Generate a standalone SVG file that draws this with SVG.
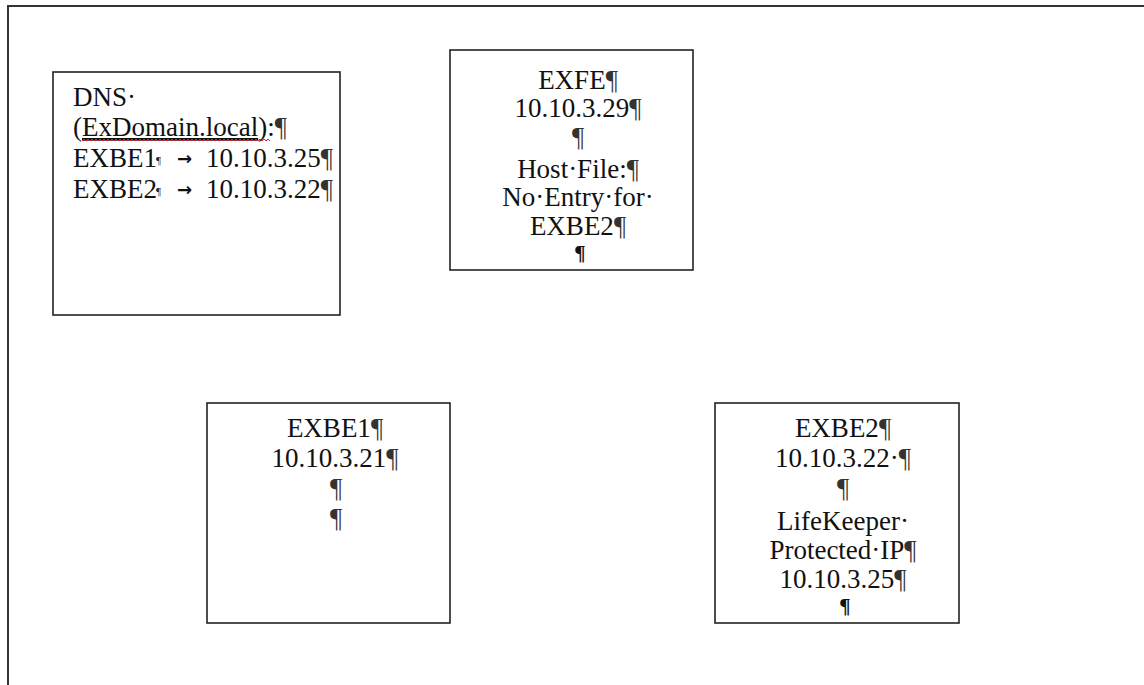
<svg xmlns="http://www.w3.org/2000/svg" width="1144" height="685" viewBox="0 0 1144 685">
  <style>
    .frame { fill: none; stroke: #333; stroke-width: 2; }
    .box { fill: #fff; stroke: #222; stroke-width: 1.6; }
    .t { font-family: "Liberation Serif", "Times New Roman", serif; font-size: 27px; fill: #111; }
    .c { text-anchor: middle; }
    .pm { fill: #333; }
    .endmark { font-family: "Liberation Serif", "Times New Roman", serif; font-size: 21px; font-weight: bold; fill: #111; text-anchor: middle; }
    .brk { font-family: "Liberation Serif", serif; font-size: 11px; fill: #222; }
    .tab { font-family: "DejaVu Sans", sans-serif; font-size: 18px; font-weight: bold; fill: #111; }
    .squiggle { fill: none; stroke: #e02020; stroke-width: 1; }
  </style>

  <rect width="1144" height="685" fill="#fff"/>

  <!-- page border: only the top and left edges are in view -->
  <path class="frame" d="M8,685 V6 H1144"/>

  <!-- DNS records -->
  <g id="dns">
    <rect class="box" x="53" y="72" width="287" height="243"/>
    <text class="t" x="73" y="106">DNS·</text>
    <text class="t" x="73" y="136">(<tspan text-decoration="underline">ExDomain.local</tspan>):<tspan class="pm">¶</tspan></text>
    <path class="squiggle" d="M82,141 l2,-2 l2,2 l2,-2 l2,2 l2,-2 l2,2 l2,-2 l2,2 l2,-2 l2,2 l2,-2 l2,2 l2,-2 l2,2 l2,-2 l2,2 l2,-2 l2,2 l2,-2 l2,2 l2,-2 l2,2 l2,-2 l2,2 l2,-2 l2,2 l2,-2 l2,2 l2,-2 l2,2 l2,-2 l2,2 l2,-2 l2,2 l2,-2 l2,2 l2,-2 l2,2 l2,-2 l2,2 l2,-2 l2,2 l2,-2 l2,2 l2,-2 l2,2 l2,-2 l2,2 l2,-2 l2,2 l2,-2 l2,2 l2,-2 l2,2 l2,-2 l2,2 l2,-2 l2,2 l2,-2 l2,2 l2,-2 l2,2 l2,-2 l2,2 l2,-2 l2,2 l2,-2 l2,2 l2,-2 l2,2 l2,-2 l2,2 l2,-2 l2,2 l2,-2 l2,2 l2,-2 l2,2 l2,-2 l2,2 l2,-2 l2,2 l2,-2 l2,2 l2,-2 l2,2 l2,-2 l2,2 l2,-2 l2,2 l2,-2 l2,2 l2,-2 l2,2"/>
    <text class="t" x="73" y="167">EXBE1</text>
    <text class="brk" x="156" y="164">¶</text>
    <text class="tab" x="177" y="165">→</text>
    <text class="t" x="206" y="167">10.10.3.25<tspan class="pm">¶</tspan></text>
    <text class="t" x="73" y="198">EXBE2</text>
    <text class="brk" x="156" y="195">¶</text>
    <text class="tab" x="177" y="196">→</text>
    <text class="t" x="206" y="198">10.10.3.22<tspan class="pm">¶</tspan></text>
  </g>

  <!-- front-end server -->
  <g id="exfe">
    <rect class="box" x="450" y="50" width="243" height="220"/>
    <text class="t c" x="578" y="89">EXFE<tspan class="pm">¶</tspan></text>
    <text class="t c" x="578" y="117">10.10.3.29<tspan class="pm">¶</tspan></text>
    <text class="t c pm" x="578" y="146">¶</text>
    <text class="t c" x="578" y="178">Host·File:<tspan class="pm">¶</tspan></text>
    <text class="t c" x="578" y="206">No·Entry·for·</text>
    <text class="t c" x="578" y="235">EXBE2<tspan class="pm">¶</tspan></text>
    <text class="endmark" x="580" y="260">¶</text>
  </g>

  <!-- back-end server 1 -->
  <g id="exbe1">
    <rect class="box" x="207" y="403" width="243" height="220"/>
    <text class="t c" x="335" y="437">EXBE1<tspan class="pm">¶</tspan></text>
    <text class="t c" x="335" y="467">10.10.3.21<tspan class="pm">¶</tspan></text>
    <text class="t c pm" x="336" y="497">¶</text>
    <text class="t c pm" x="336" y="527">¶</text>
  </g>

  <!-- back-end server 2 -->
  <g id="exbe2">
    <rect class="box" x="715" y="403" width="244" height="220"/>
    <text class="t c" x="843" y="437">EXBE2<tspan class="pm">¶</tspan></text>
    <text class="t c" x="843" y="467">10.10.3.22·<tspan class="pm">¶</tspan></text>
    <text class="t c pm" x="843" y="497">¶</text>
    <text class="t c" x="843" y="530">LifeKeeper·</text>
    <text class="t c" x="843" y="559">Protected·IP<tspan class="pm">¶</tspan></text>
    <text class="t c" x="843" y="588">10.10.3.25<tspan class="pm">¶</tspan></text>
    <text class="endmark" x="845" y="613">¶</text>
  </g>

  <!-- no connectors are drawn between the nodes -->
  <g id="connectors"/>
</svg>
